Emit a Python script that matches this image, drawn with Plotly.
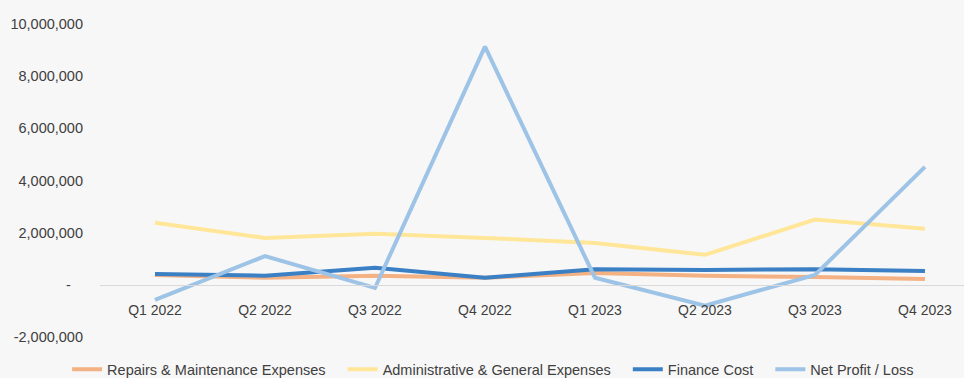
import plotly.graph_objects as go

quarters = ["Q1 2022", "Q2 2022", "Q3 2022", "Q4 2022", "Q1 2023", "Q2 2023", "Q3 2023", "Q4 2023"]
repairs = [380000, 270000, 350000, 270000, 450000, 350000, 300000, 220000]
admin = [2380000, 1800000, 1960000, 1800000, 1600000, 1150000, 2500000, 2150000]
finance = [420000, 350000, 650000, 270000, 600000, 570000, 600000, 530000]
net_profit = [-580000, 1100000, -120000, 9130000, 270000, -800000, 380000, 4520000]

y_ticks = [-2000000, 0, 2000000, 4000000, 6000000, 8000000, 10000000]
y_tick_text = ["-2,000,000", "-\u00a0\u00a0\u00a0", "2,000,000", "4,000,000", "6,000,000", "8,000,000", "10,000,000"]

pad = "\u00a0\u00a0\u00a0"
series = [
    ("Repairs & Maintenance Expenses" + pad, repairs, "#f4b183"),
    ("Administrative & General Expenses" + pad, admin, "#ffe699"),
    ("Finance Cost" + pad, finance, "#3b7fc4"),
    ("Net Profit / Loss", net_profit, "#9dc3e6"),
]

fig = go.Figure()
for name, vals, color in series:
    fig.add_trace(go.Scatter(
        x=quarters, y=vals, mode="lines", name=name,
        line=dict(color=color, width=4),
    ))

font_family = "Liberation Sans, Arial, sans-serif"
fig.update_layout(
    width=964, height=378,
    margin=dict(l=100, r=0, t=24, b=41, autoexpand=False),
    paper_bgcolor="#f7f7f7", plot_bgcolor="#f7f7f7",
    font=dict(family=font_family, size=14, color="#404040"),
    showlegend=True,
    legend=dict(
        orientation="h", x=0.455, xanchor="center",
        y=-0.103, yanchor="middle", font=dict(size=14.5, color="#404040"),
        bgcolor="rgba(0,0,0,0)", itemwidth=30,
    ),
    xaxis=dict(
        type="category", range=[-0.5, 7.355],
        anchor="free", position=2/12,
        showline=True, linecolor="#d9d9d9", linewidth=1,
        showgrid=False, zeroline=False, ticks="",
        tickangle=0, automargin=False,
        ticklabelstandoff=12,
        tickfont=dict(size=14, color="#404040"),
    ),
    yaxis=dict(
        range=[-2000000, 10000000],
        tickvals=y_ticks, ticktext=y_tick_text,
        showgrid=False, zeroline=False, showline=False, ticks="",
        automargin=False,
        ticklabelstandoff=16,
        tickfont=dict(size=14.5, color="#404040"),
    ),
)

fig.write_html("out.html")
